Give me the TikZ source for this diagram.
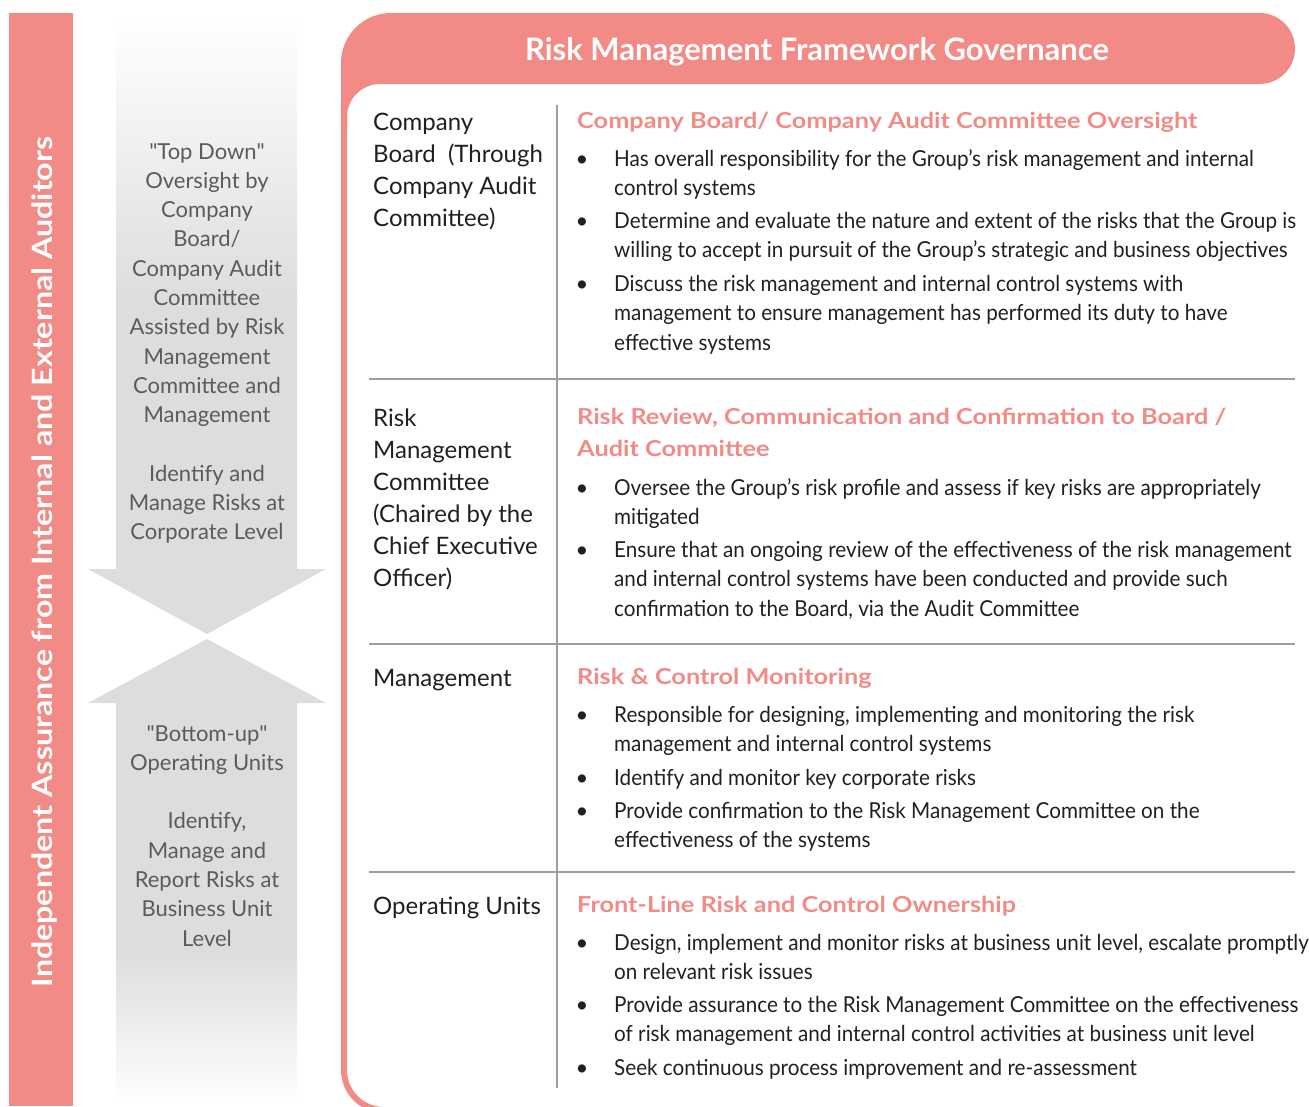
\documentclass[tikz,border=0pt]{standalone}
\usepackage{fontspec}
\setmainfont{Lato}
\newfontfamily\itemfont[FakeStretch=0.94]{Lato}
\newfontfamily\headfont[FakeStretch=1.15]{Lato}
\definecolor{frame}{HTML}{F28A85}
\definecolor{arrowgrey}{HTML}{DCDDDF}
\definecolor{arrowtext}{HTML}{5A5B5D}
\definecolor{bodytext}{HTML}{231F20}
\definecolor{rulegrey}{HTML}{9C9EA1}
\newcommand\leftlines[1]{\begin{tabular}[t]{@{}l@{}}#1\end{tabular}}
\newcommand\midlines[1]{\begin{tabular}[t]{@{}c@{}}#1\end{tabular}}
\newcommand\riskitem[3]{%
  \draw(582,#2) node[bulletdot] (#1b) {\textbullet};
  \draw(614,#2) node[bodytxt] (#1) {\leftlines{#3}};}
\begin{document}
\begin{tikzpicture}[x=1pt,y=-1pt,
  bodytxt/.style={anchor=base west, inner sep=0pt, text=bodytext, font=\itemfont\fontsize{22}{29.5}\selectfont},
  bulletdot/.style={anchor=base, inner sep=0pt, text=bodytext, font=\fontsize{22}{29.5}\selectfont},
  headtxt/.style={anchor=base west, inner sep=0pt, text=frame, font=\headfont\fontsize{22}{32}\selectfont\bfseries},
  roletxt/.style={anchor=base west, inner sep=0pt, text=bodytext, font=\fontsize{24}{32}\selectfont},
  flowtxt/.style={anchor=base, inner sep=0pt, text=arrowtext, font=\fontsize{22}{29.3}\selectfont},
  divider/.style={draw=rulegrey, line width=1.6pt}]
\useasboundingbox (0,0) rectangle (1309,1106);
\clip (0,0) rectangle (1309,1106);
\fill[frame] (9,13) rectangle (73,1106);
\draw(52,562) node[rotate=90, anchor=base, inner sep=0pt, text=white, font=\headfont\fontsize{28}{34}\selectfont\bfseries] (assurance) {Independent Assurance from Internal and External Auditors};
\shade[top color=white, bottom color=arrowgrey] (116,17) rectangle (297,301);
\fill[arrowgrey] (116,300) -- (297,300) -- (297,569) -- (326,569) -- (207,634) -- (88,569) -- (116,569) -- cycle;
\fill[arrowgrey] (207,639) -- (326,703) -- (297,703) -- (297,951) -- (116,951) -- (116,703) -- (88,703) -- cycle;
\shade[top color=arrowgrey, bottom color=white] (116,950) rectangle (297,1106);
\draw(207,159) node[flowtxt] (topdown) {\midlines{\textquotedbl Top Down\textquotedbl\\Oversight by\\Company\\Board/\\Company Audit\\Committee\\Assisted by Risk\\Management\\Committee and\\Management\\[29.3pt]Identify and\\Manage Risks at\\Corporate Level}};
\draw(207,741) node[flowtxt] (bottomup) {\midlines{\textquotedbl Bottom-up\textquotedbl\\Operating Units\\[29.3pt]Identify,\\Manage and\\Report Risks at\\Business Unit\\Level}};
\fill[frame] (341,130) -- (341,63) arc[start angle=180, end angle=270, radius=50] -- (1259.5,13) arc[start angle=270, end angle=450, radius=35.5] -- (380,84) arc[start angle=270, end angle=180, radius=33] -- (347,130) -- cycle;
\draw[frame, line width=6pt] (344,115) -- (344,1070) arc[start angle=180, end angle=90, radius=40];
\draw(817,60) node[anchor=base, inner sep=0pt, text=white, font=\fontsize{31}{36}\selectfont\bfseries] (title) {Risk Management Framework Governance};
\draw[divider] (557,105) -- (557,1088);
\foreach \y in {379,644,872} \draw[divider] (369,\y) -- (1295,\y);
\draw(373,130) node[roletxt] (board) {\leftlines{Company\\Board\ \ (Through\\Company Audit\\Committee)}};
\draw(373,426) node[roletxt] (rmc) {\leftlines{Risk\\Management\\Committee\\(Chaired by the\\Chief Executive\\Officer)}};
\draw(373,686) node[roletxt] (mgmt) {Management};
\draw(373,914) node[roletxt] (units) {Operating Units};
\draw(577,128) node[headtxt] (oversight) {Company Board/ Company Audit Committee Oversight};
\riskitem{overall}{166}{Has overall responsibility for the Group’s risk management and internal\\control systems}
\riskitem{appetite}{228}{Determine and evaluate the nature and extent of the risks that the Group is\\willing to accept in pursuit of the Group’s strategic and business objectives}
\riskitem{discuss}{291}{Discuss the risk management and internal control systems with\\management to ensure management has performed its duty to have\\effective systems}
\draw(577,424) node[headtxt] (review) {\leftlines{Risk Review, Communication and Confirmation to Board /\\Audit Committee}};
\riskitem{profile}{495}{Oversee the Group’s risk profile and assess if key risks are appropriately\\mitigated}
\riskitem{ongoing}{557}{Ensure that an ongoing review of the effectiveness of the risk management\\and internal control systems have been conducted and provide such\\confirmation to the Board, via the Audit Committee}
\draw(577,684) node[headtxt] (monitoring) {Risk \& Control Monitoring};
\riskitem{design}{722}{Responsible for designing, implementing and monitoring the risk\\management and internal control systems}
\riskitem{keyrisks}{785}{Identify and monitor key corporate risks}
\riskitem{confirm}{818}{Provide confirmation to the Risk Management Committee on the\\effectiveness of the systems}
\draw(577,912) node[headtxt] (ownership) {Front-Line Risk and Control Ownership};
\riskitem{escalate}{950}{Design, implement and monitor risks at business unit level, escalate promptly\\on relevant risk issues}
\riskitem{assure}{1012}{Provide assurance to the Risk Management Committee on the effectiveness\\of risk management and internal control activities at business unit level}
\riskitem{improve}{1075}{Seek continuous process improvement and re-assessment}
\end{tikzpicture}
\end{document}
